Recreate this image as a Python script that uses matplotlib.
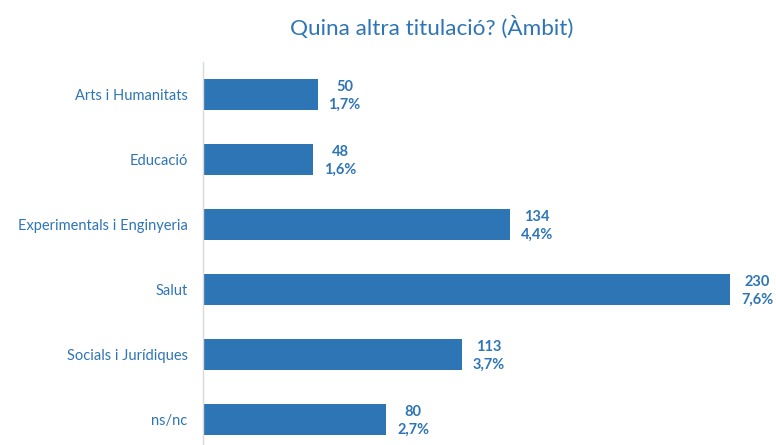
import matplotlib
matplotlib.use("Agg")
import matplotlib.pyplot as plt

plt.rcParams["font.family"] = ["Lato", "DejaVu Sans"]

categories = ["Arts i Humanitats", "Educació", "Experimentals i Enginyeria",
              "Salut", "Socials i Jurídiques", "ns/nc"]
counts = [50, 48, 134, 230, 113, 80]
percents = ["1,7%", "1,6%", "4,4%", "7,6%", "3,7%", "2,7%"]

blue = "#2E75B6"
W, H = 776, 445
fig = plt.figure(figsize=(W / 100, H / 100), dpi=100)
ax = fig.add_axes([203 / W, 0, 573 / W, 383 / H])

ypos = list(range(len(categories)))
ax.barh(ypos, counts, height=0.48, color=blue)
ax.set_xlim(0, 573 / (527 / 230))
ax.set_ylim(5.392, -0.5)

for y, c, p in zip(ypos, counts, percents):
    ax.annotate(f"{c}\n{p}", (c, y), xytext=(27, -1.5), textcoords="offset pixels",
                ha="center", va="center", fontsize=10.5, fontweight="bold",
                color=blue, linespacing=1.35)

ax.set_yticks(ypos)
ax.set_yticklabels(categories, fontsize=10.5, color=blue)
ax.tick_params(axis="y", length=0, pad=11)
ax.set_xticks([])
for s in ["top", "right", "bottom"]:
    ax.spines[s].set_visible(False)
ax.spines["left"].set_color("#D9D9D9")
ax.spines["left"].set_linewidth(1)

fig.text(432 / W, 1 - 27 / H, "Quina altra titulació? (Àmbit)", ha="center", va="center",
         fontsize=16.2, color=blue)

fig.savefig("out.png", dpi=100)
plt.close(fig)
